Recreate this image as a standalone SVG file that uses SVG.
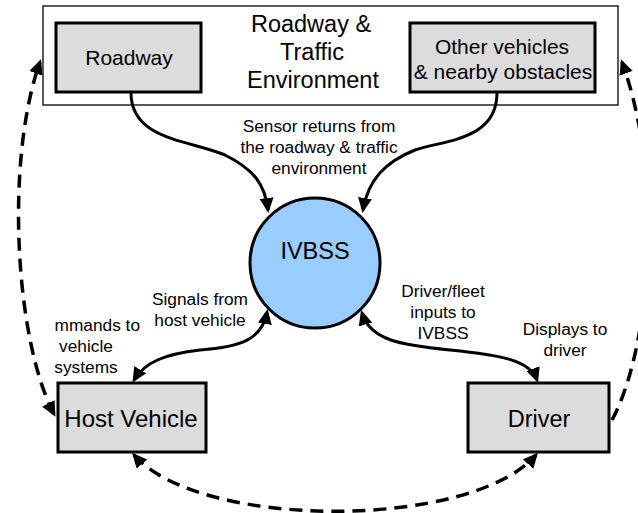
<svg xmlns="http://www.w3.org/2000/svg" width="638" height="513" viewBox="0 0 638 513">
<style>
text{font-family:"Liberation Sans",Arial,sans-serif;fill:#000;text-anchor:middle}
.big{font-size:23.5px}
.mid{font-size:21px}
.sm{font-size:17.3px}
.box{fill:#dcdcdc;stroke:#000;stroke-width:3}
.sol{fill:none;stroke:#000;stroke-width:3}
.dash{fill:none;stroke:#000;stroke-width:3.5;stroke-dasharray:13 8}
</style>
<defs>
<marker id="ah" markerUnits="userSpaceOnUse" markerWidth="18" markerHeight="16" refX="12" refY="7" orient="auto-start-reverse">
<path d="M0,0 L15,7 L0,14 z" fill="#000"/>
</marker>
</defs>
<g id="environment">
<rect x="43" y="6" width="575" height="99" fill="#fff" stroke="#000" stroke-width="1.3"/>
<text class="big" x="311" y="32">Roadway &amp;</text>
<text class="big" x="312" y="60">Traffic</text>
<text class="big" x="313" y="88">Environment</text>
</g>
<g id="roadway">
<rect class="box" x="56" y="23" width="145" height="69"/>
<text class="mid" x="129" y="65">Roadway</text>
</g>
<g id="other">
<rect class="box" x="410" y="23" width="185" height="69"/>
<text class="mid" x="502" y="54">Other vehicles</text>
<text class="mid" x="503" y="79">&amp; nearby obstacles</text>
</g>
<g id="ivbss">
<circle cx="315" cy="263" r="65" fill="#99ccff" stroke="#000" stroke-width="3"/>
<text class="big" x="315" y="259">IVBSS</text>
</g>
<g id="host">
<rect class="box" x="58" y="383" width="148" height="69"/>
<text class="big" x="131" y="427" style="font-size:24px">Host Vehicle</text>
</g>
<g id="driver">
<rect class="box" x="468" y="383" width="141" height="69"/>
<text class="big" x="539" y="427">Driver</text>
</g>
<g id="connectors">
<path class="sol" d="M131,93 C131,140 190,140 225,155 C255,170 265,185 268,210" marker-end="url(#ah)"/>
<path class="sol" d="M497,93 C497,140 445,140 415,150 C385,162 368,180 363,210" marker-end="url(#ah)"/>
<path class="sol" d="M267,312 C262,340 240,347 200,350 C165,354 145,362 134,380" marker-start="url(#ah)" marker-end="url(#ah)"/>
<path class="sol" d="M362,313 C370,340 400,345 450,350 C500,355 530,360 537,380" marker-start="url(#ah)" marker-end="url(#ah)"/>
<path class="dash" d="M54,414 C15,340 5,160 40,62" marker-start="url(#ah)" marker-end="url(#ah)"/>
<path class="dash" d="M612,420 C650,350 665,180 622,62" marker-end="url(#ah)"/>
<path class="dash" d="M134,455 C200,530 470,530 536,455" marker-start="url(#ah)" marker-end="url(#ah)"/>
</g>
<g id="labels">
<text class="sm" x="319" y="132">Sensor returns from</text>
<text class="sm" x="319" y="153">the roadway &amp; traffic</text>
<text class="sm" x="319" y="174">environment</text>
<text class="sm" x="200" y="305">Signals from</text>
<text class="sm" x="200" y="326">host vehicle</text>
<text class="sm" x="140" y="331" style="text-anchor:end">mmands to</text>
<text class="sm" x="86" y="352">vehicle</text>
<text class="sm" x="86" y="373">systems</text>
<text class="sm" x="443" y="297">Driver/fleet</text>
<text class="sm" x="443" y="318">inputs to</text>
<text class="sm" x="443" y="339">IVBSS</text>
<text class="sm" x="565" y="335">Displays to</text>
<text class="sm" x="565" y="356">driver</text>
</g>
</svg>
